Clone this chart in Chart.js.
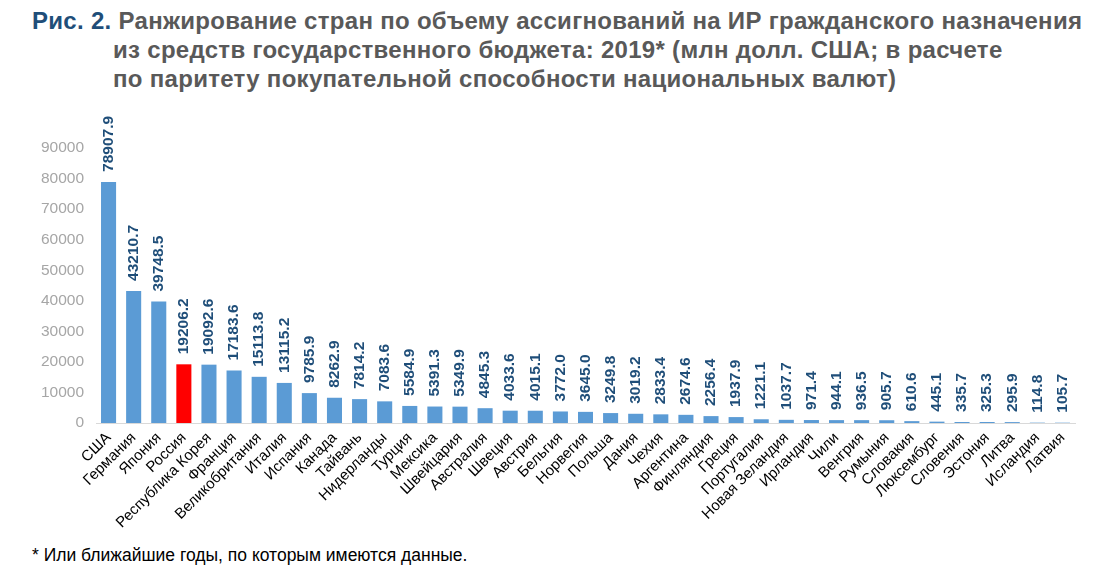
<!DOCTYPE html>
<html>
<head>
<meta charset="utf-8">
<script src="https://cdn.jsdelivr.net/npm/chart.js@4.4.0/dist/chart.umd.min.js"></script>
<style>
  body { margin: 0; background: #fff; width: 1118px; height: 574px; overflow: hidden; font-family: "Liberation Sans", Arial, sans-serif; }
  .title { position: absolute; left: 32px; top: 6px; font-size: 24px; font-weight: bold; color: #595959; line-height: 29px; letter-spacing: 0.3px; white-space: nowrap; }
  .title .fig { color: #1f4e79; }
  .title .ind { padding-left: 81px; }
  .note { position: absolute; left: 32px; top: 545px; font-size: 17.5px; color: #000; }
  .wrap { position: absolute; left: 0; top: 100px; width: 1118px; height: 440px; }
</style>
</head>
<body>
<div class="title">
  <div><span class="fig">Рис. 2.</span> Ранжирование стран по объему ассигнований на ИР гражданского назначения</div>
  <div class="ind">из средств государственного бюджета: 2019* (млн долл. США; в расчете</div>
  <div class="ind">по паритету покупательной способности национальных валют)</div>
</div>
<div class="wrap"><canvas id="chart"></canvas></div>
<div class="note">* Или ближайшие годы, по которым имеются данные.</div>
<script>
const countries = ['США', 'Германия', 'Япония', 'Россия', 'Республика Корея', 'Франция', 'Великобритания', 'Италия', 'Испания', 'Канада', 'Тайвань', 'Нидерланды', 'Турция', 'Мексика', 'Швейцария', 'Австралия', 'Швеция', 'Австрия', 'Бельгия', 'Норвегия', 'Польша', 'Дания', 'Чехия', 'Аргентина', 'Финляндия', 'Греция', 'Португалия', 'Новая Зеландия', 'Ирландия', 'Чили', 'Венгрия', 'Румыния', 'Словакия', 'Люксембург', 'Словения', 'Эстония', 'Литва', 'Исландия', 'Латвия'];
const values = [78907.9, 43210.7, 39748.5, 19206.2, 19092.6, 17183.6, 15113.8, 13115.2, 9785.9, 8262.9, 7814.2, 7083.6, 5584.9, 5391.3, 5349.9, 4845.3, 4033.6, 4015.1, 3772.0, 3645.0, 3249.8, 3019.2, 2833.4, 2674.6, 2256.4, 1937.9, 1221.1, 1037.7, 971.4, 944.1, 936.5, 905.7, 610.6, 445.1, 335.7, 325.3, 295.9, 114.8, 105.7];
const highlight = 'Россия';
const yTicks = [0, 10000, 20000, 30000, 40000, 50000, 60000, 70000, 80000, 90000];

const FONT = '"Liberation Sans", Arial, sans-serif';

// vertical value labels above each bar
const barLabels = {
  id: 'barLabels',
  afterDatasetsDraw(chart) {
    const ctx = chart.ctx;
    const meta = chart.getDatasetMeta(0);
    ctx.save();
    ctx.font = 'bold 15.5px ' + FONT;
    ctx.fillStyle = '#1f4e79';
    ctx.textAlign = 'left';
    ctx.textBaseline = 'middle';
    meta.data.forEach((bar, i) => {
      ctx.save();
      ctx.translate(bar.x, bar.y - 10);
      ctx.rotate(-Math.PI / 2);
      ctx.fillText(values[i].toFixed(1), 0, 0);
      ctx.restore();
    });
    ctx.restore();
  }
};

new Chart(document.getElementById('chart'), {
  type: 'bar',
  data: {
    labels: countries,
    datasets: [{
      data: values,
      backgroundColor: countries.map(c => c === highlight ? '#ff0000' : '#5b9bd5'),
      barPercentage: 0.6,
      categoryPercentage: 1
    }]
  },
  options: {
    responsive: true,
    maintainAspectRatio: false,
    animation: false,
    layout: { padding: { left: 10, right: 43, top: 48, bottom: 0 } },
    plugins: { legend: { display: false }, tooltip: { enabled: false } },
    scales: {
      x: {
        grid: { display: false, drawTicks: false },
        border: { color: '#d9d9d9', width: 1 },
        ticks: { color: '#000', font: { family: FONT, size: 15 }, maxRotation: 45, minRotation: 45, autoSkip: false, padding: 6 },
        afterFit: s => { s.height = 117; }
      },
      y: {
        min: 0, max: 90000,
        grid: { display: false, drawTicks: false },
        border: { display: false },
        afterBuildTicks: s => { s.ticks = yTicks.map(v => ({ value: v })); },
        ticks: { color: '#a6a6a6', font: { family: FONT, size: 15.5 }, padding: 12, callback: v => String(v) },
        afterFit: s => { s.width = 86; }
      }
    }
  },
  plugins: [barLabels]
});
</script>
</body>
</html>
